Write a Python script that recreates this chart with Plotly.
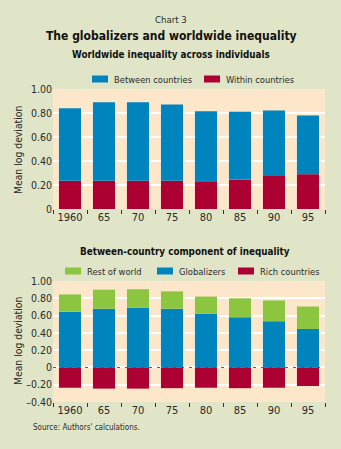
import plotly.graph_objects as go

# ---------------- data ----------------
years = ["1960", "65", "70", "75", "80", "85", "90", "95"]

# Top chart: worldwide inequality across individuals
within_countries = [0.235, 0.235, 0.235, 0.235, 0.225, 0.245, 0.275, 0.29]
between_countries = [0.605, 0.655, 0.655, 0.635, 0.59, 0.565, 0.545, 0.49]

# Bottom chart: between-country component
globalizers = [0.645, 0.68, 0.69, 0.68, 0.62, 0.58, 0.535, 0.445]
rest_of_world = [0.20, 0.22, 0.215, 0.20, 0.20, 0.22, 0.24, 0.26]
rich_countries = [-0.235, -0.245, -0.245, -0.24, -0.235, -0.24, -0.235, -0.215]

top_ticks = [0, 0.2, 0.4, 0.6, 0.8, 1.0]
top_ticktext = ["0", "0.20", "0.40", "0.60", "0.80", "1.00"]
bot_ticks = [-0.4, -0.2, 0, 0.2, 0.4, 0.6, 0.8, 1.0]
bot_ticktext = ["–0.40", "–0.20", "0", "0.20", "0.40", "0.60", "0.80", "1.00"]

# ---------------- style ----------------
BLUE = "#0084be"
RED = "#ac0033"
GREEN = "#8cc640"
PAGE = "#dfe5c6"
PLOT = "#fde7cb"
TXT = "#2a2a2a"
FONT = "DejaVu Sans Condensed, Liberation Sans Narrow, Arial Narrow, sans-serif"

W, H = 341, 449
ML, MR, MT, MB = 53, 16, 89, 47
ph = H - MT - MB


def py(pix):
    """pixel row (from top of page) -> paper y"""
    return (H - MB - pix) / ph


def px(pix):
    return (pix - ML) / (W - ML - MR)


fig = go.Figure()

fig.add_trace(go.Bar(x=years, y=within_countries, marker_color=RED, marker_line_width=0,
                     name="Within countries", xaxis="x", yaxis="y", showlegend=False))
fig.add_trace(go.Bar(x=years, y=between_countries, marker_color=BLUE, marker_line_width=0,
                     name="Between countries", xaxis="x", yaxis="y", showlegend=False))

fig.add_trace(go.Bar(x=years, y=globalizers, marker_color=BLUE, marker_line_width=0,
                     name="Globalizers", xaxis="x2", yaxis="y2", showlegend=False))
fig.add_trace(go.Bar(x=years, y=rest_of_world, marker_color=GREEN, marker_line_width=0,
                     name="Rest of world", xaxis="x2", yaxis="y2", showlegend=False))
fig.add_trace(go.Bar(x=years, y=rich_countries, marker_color=RED, marker_line_width=0,
                     name="Rich countries", xaxis="x2", yaxis="y2", showlegend=False))

xaxis_common = dict(
    type="category", tickson="boundaries", ticks="outside", ticklen=4, tickwidth=1,
    tickcolor="#333333", showgrid=False, showline=False, zeroline=False, tickangle=0,
    tickfont=dict(family=FONT, size=11, color=TXT), fixedrange=True,
)
yaxis_common = dict(
    showgrid=True, gridcolor="white", gridwidth=1.5, zeroline=False, showline=False,
    ticks="", tickfont=dict(family=FONT, size=10.5, color=TXT), fixedrange=True,
)

top_dom = [py(209), 1.0]
bot_dom = [0.0, py(281)]

fig.update_layout(
    width=W, height=H,
    margin=dict(l=ML, r=MR, t=MT, b=MB),
    paper_bgcolor=PAGE, plot_bgcolor=PLOT,
    barmode="relative", bargap=0.35,
    font=dict(family=FONT, color=TXT),
    xaxis=dict(**xaxis_common, domain=[0, 1], anchor="y"),
    yaxis=dict(**yaxis_common, domain=top_dom, range=[0, 1.0],
               tickvals=top_ticks, ticktext=top_ticktext, anchor="x"),
    xaxis2=dict(**xaxis_common, domain=[0, 1], anchor="y2"),
    yaxis2=dict(**yaxis_common, domain=bot_dom, range=[-0.4, 1.0],
                tickvals=bot_ticks, ticktext=bot_ticktext, anchor="x2"),
)

# dashed zero line on bottom chart
fig.add_shape(type="line", xref="x2 domain", yref="y2", x0=0, x1=1, y0=0, y1=0,
              line=dict(color="#555555", width=1, dash="3px,5px"), layer="above")

ann = []


def text(x, y, s, size, bold=False, color=TXT, xanchor="center", angle=0):
    ann.append(dict(x=px(x), y=py(y), xref="paper", yref="paper", text=f"<b>{s}</b>" if bold else s,
                    showarrow=False, xanchor=xanchor, yanchor="middle", textangle=angle,
                    font=dict(family=FONT, size=size, color=color)))


text(171, 20, "Chart 3", 9.5)
text(171, 36, "The globalizers and worldwide inequality", 12, bold=True, color="#111111")
text(171, 55, "Worldwide inequality across individuals", 9.8, bold=True, color="#111111")
text(185, 251, "Between-country component of inequality", 9.8, bold=True, color="#111111")
text(18, 150, "Mean log deviation", 10.3, angle=-90)
text(18, 341, "Mean log deviation", 10.3, angle=-90)
text(31, 427, "Source: Authors' calculations.", 8, xanchor="left")


def swatch(x0, y, color, label):
    fig.add_shape(type="rect", xref="paper", yref="paper",
                  x0=px(x0), x1=px(x0 + 16), y0=py(y + 3.5), y1=py(y - 3.5),
                  fillcolor=color, line_width=0)
    text(x0 + 20, y, label, 9.3, xanchor="left")


swatch(92, 79, BLUE, "Between countries")
swatch(204, 79, RED, "Within countries")
swatch(65, 271, GREEN, "Rest of world")
swatch(157, 271, BLUE, "Globalizers")
swatch(238, 271, RED, "Rich countries")

fig.update_layout(annotations=ann)
fig.write_html("out.html")
